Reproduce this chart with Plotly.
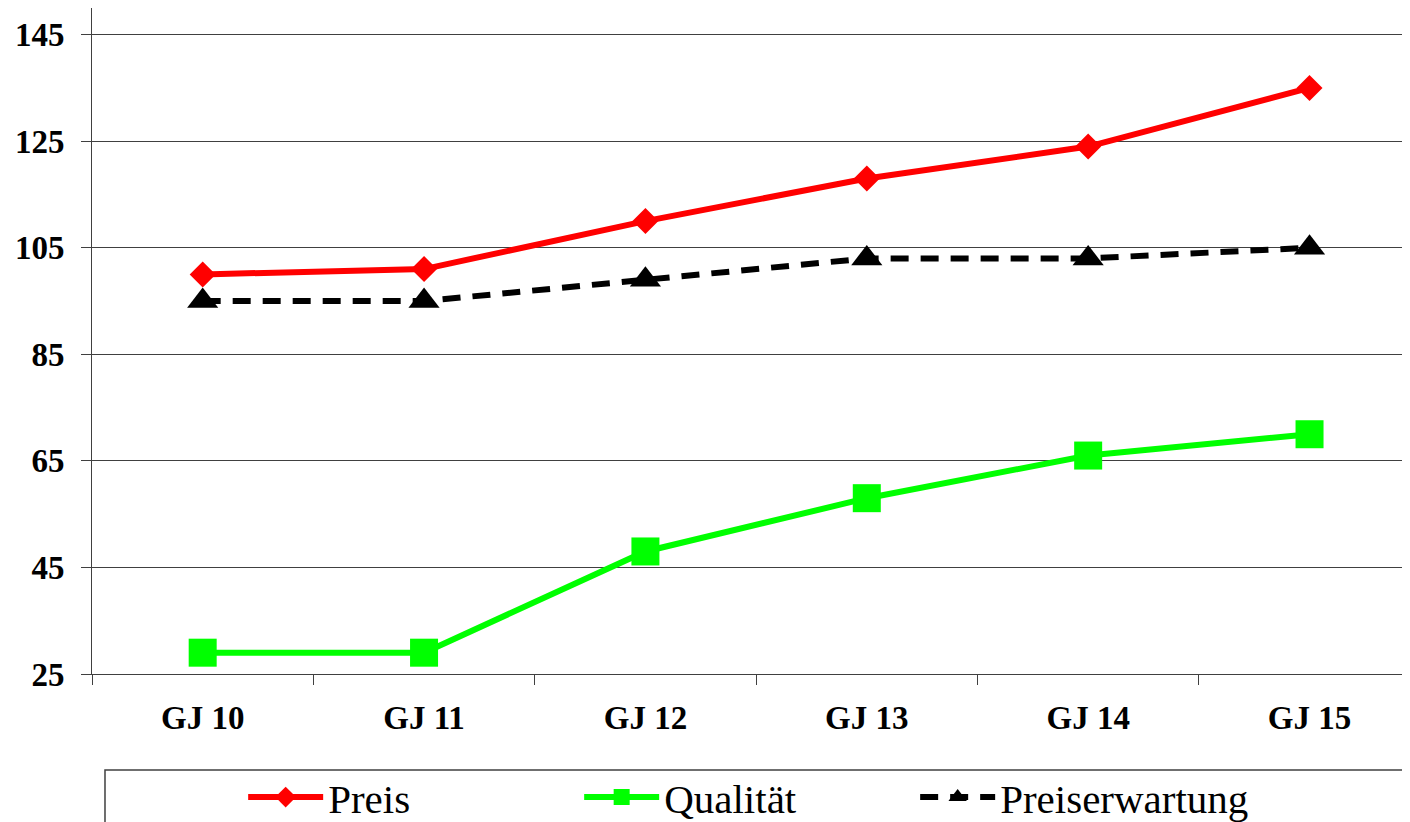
import plotly.graph_objects as go

categories = ["GJ 10", "GJ 11", "GJ 12", "GJ 13", "GJ 14", "GJ 15"]
preis = [100, 101, 110, 118, 124, 135]
qualitaet = [29, 29, 48, 58, 66, 70]
preiserwartung = [95, 95, 99, 103, 103, 105]
y_ticks = [25, 45, 65, 85, 105, 125, 145]

SERIF = "Times New Roman, Liberation Serif, Times, serif"

fig = go.Figure()
fig.add_trace(go.Scatter(x=categories, y=preis, name="Preis", mode="lines+markers",
                         line=dict(color="#FF0000", width=6),
                         marker=dict(symbol="diamond", size=20, color="#FF0000")))
fig.add_trace(go.Scatter(x=categories, y=qualitaet, name="Qualität", mode="lines+markers",
                         line=dict(color="#00FF00", width=6),
                         marker=dict(symbol="square", size=28, color="#00FF00")))
fig.add_trace(go.Scatter(x=categories, y=preiserwartung, name="Preiserwartung", mode="lines+markers",
                         line=dict(color="#000000", width=6, dash="18px,12px"),
                         marker=dict(symbol="triangle-up", size=27, color="#000000")))

fig.update_layout(
    width=1410, height=822,
    margin=dict(l=84, r=0, t=0, b=156, autoexpand=False),
    paper_bgcolor="white", plot_bgcolor="white",
    font=dict(family=SERIF, color="black"),
    xaxis=dict(type="category", range=[-0.5, 5.49], tickson="boundaries",
               ticks="outside", ticklen=10, tickcolor="#404040", automargin=False,
               showline=True, linecolor="#404040", linewidth=1, mirror=True,
               showgrid=False, ticklabelstandoff=14,
               tickfont=dict(size=33, family=SERIF, weight="bold")),
    yaxis=dict(range=[25, 150], tickvals=y_ticks, ticks="outside", ticklen=10,
               tickcolor="#404040", showline=True, linecolor="#404040", linewidth=1,
               showgrid=True, gridcolor="#404040", gridwidth=1, zeroline=False,
               ticklabelstandoff=10, automargin=False,
               tickfont=dict(size=33, family=SERIF, weight="bold")),
    legend=dict(orientation="h", x=0.114, xanchor="left", y=-0.135, yanchor="top",
                font=dict(size=41, family=SERIF), itemwidth=75,
                entrywidth=246, bgcolor="rgba(0,0,0,0)"),
    shapes=[dict(type="rect", xref="paper", yref="paper", x0=0.0098, x1=1.05,
                 y0=-0.144, y1=-0.3, line=dict(color="#404040", width=1.5))],
)

fig.write_html("out.html")
